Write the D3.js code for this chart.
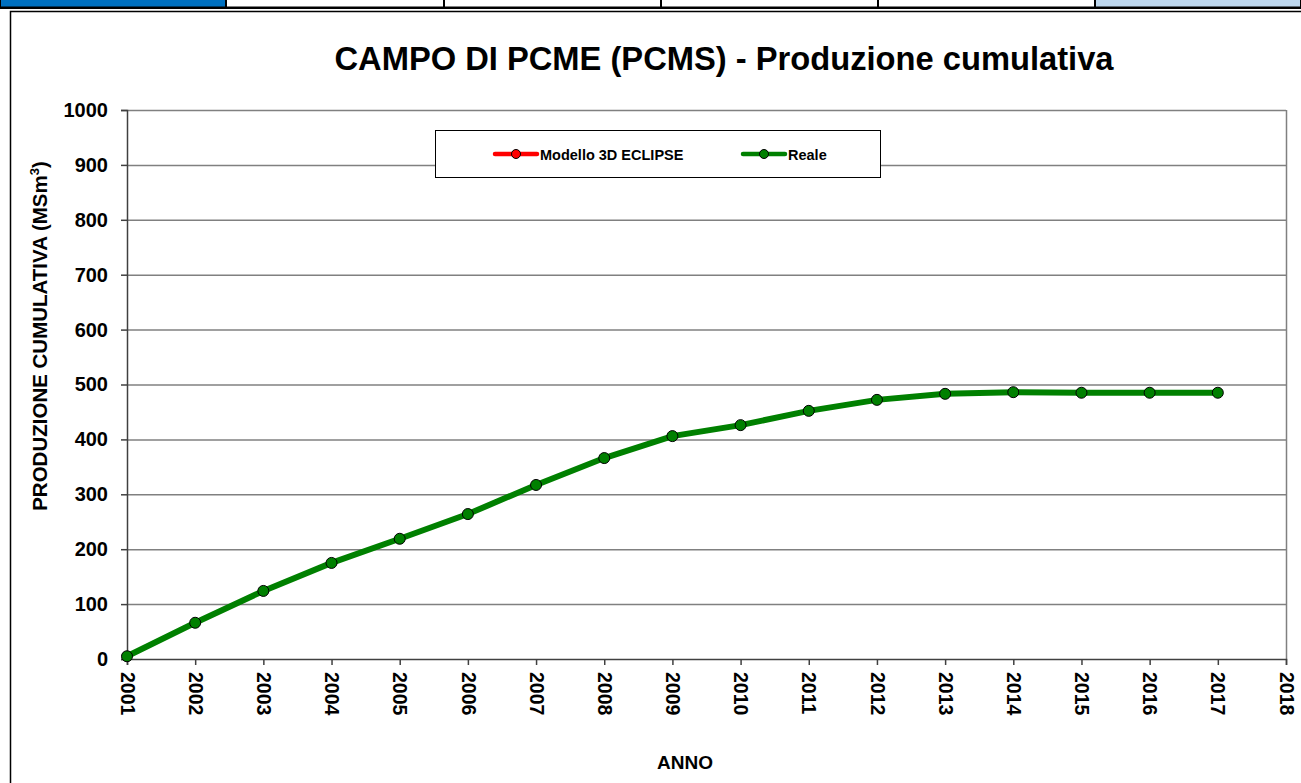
<!DOCTYPE html>
<html><head><meta charset="utf-8">
<script src="https://cdn.jsdelivr.net/npm/d3@7"></script>
<style>
html,body{margin:0;padding:0;background:#fff;}
svg{display:block;font-family:"Liberation Sans",Arial,sans-serif;}
</style></head>
<body>
<svg id="chart" width="1301" height="783"></svg>
<script>
const years = [2001,2002,2003,2004,2005,2006,2007,2008,2009,2010,2011,2012,2013,2014,2015,2016,2017];
const realValues = [5,66,124,175,219,264,317,366,406,426,452,472,483,486,485,485,485];
const modelValues = [];
const xTicks = [2001,2002,2003,2004,2005,2006,2007,2008,2009,2010,2011,2012,2013,2014,2015,2016,2017,2018];
const yTicks = [0,100,200,300,400,500,600,700,800,900,1000];
const seriesNames = ["Modello 3D ECLIPSE","Reale"];
const seriesColors = ["#ff0000","#008000"];

const svg = d3.select("#chart");

// top strip of table cells
const strip = [[0,226,"#0070c0"],[226,444,"#fff"],[444,661,"#fff"],[661,878,"#fff"],[878,1095,"#fff"],[1095,1301,"#bdd7ee"]];
strip.forEach(s=>{
  svg.append("rect").attr("x",s[0]+0.5).attr("y",-1).attr("width",s[1]-s[0]-1).attr("height",8)
    .attr("fill",s[2]).attr("stroke","#000").attr("stroke-width",1);
});
svg.append("line").attr("x1",0).attr("x2",1301).attr("y1",8).attr("y2",8).attr("stroke","#000").attr("stroke-width",2);
// chart frame
svg.append("path").attr("d","M10.5,783 V11.5 H1301").attr("fill","none").attr("stroke","#000").attr("stroke-width",1.5);

const L=127, R=1286, T=110, B=659;
const x = d3.scaleLinear().domain([2001,2018]).range([L,R]);
const y = d3.scaleLinear().domain([0,1000]).range([B,T]);

// gridlines
svg.append("g").selectAll("line").data(yTicks.filter(d=>d>0)).join("line")
  .attr("x1",L).attr("x2",R).attr("y1",d=>y(d)+0.5).attr("y2",d=>y(d)+0.5)
  .attr("stroke","#808080").attr("stroke-width",1.5);
// right border
svg.append("line").attr("x1",R+0.5).attr("x2",R+0.5).attr("y1",T).attr("y2",B).attr("stroke","#808080").attr("stroke-width",1.5);

const FF = "Liberation Sans, Arial, sans-serif";
// axes
const yAxis = d3.axisLeft(y).tickValues(yTicks).tickSize(6).tickPadding(13).tickFormat(d3.format("d"));
const gy = svg.append("g").attr("transform",`translate(${L},0)`).call(yAxis);
gy.select(".domain").attr("stroke","#404040").attr("stroke-width",1.5);
gy.selectAll(".tick line").attr("stroke","#404040").attr("stroke-width",1.5);
gy.selectAll(".tick text").attr("font-size",20).attr("font-weight","bold").attr("fill","#000")
  .attr("font-family",FF);

const xAxis = d3.axisBottom(x).tickValues(xTicks).tickSize(6).tickFormat(d3.format("d"));
const gx = svg.append("g").attr("transform",`translate(0,${B})`).call(xAxis);
gx.select(".domain").attr("stroke","#404040").attr("stroke-width",1.5);
gx.selectAll(".tick line").attr("stroke","#404040").attr("stroke-width",1.5);
gx.selectAll(".tick text").attr("font-size",19.5).attr("font-weight","bold").attr("fill","#000")
  .attr("font-family",FF)
  .attr("transform","rotate(90)").attr("x",13).attr("y",0).attr("dy","0.35em").attr("text-anchor","start");

// lines
const line = d3.line().x(d=>x(d[0])).y(d=>y(d[1]));
const series = [modelValues, realValues];
series.forEach((vals,i)=>{
  const pts = vals.map((v,j)=>[years[j],v]);
  if(!pts.length) return;
  svg.append("path").datum(pts).attr("d",line).attr("fill","none")
    .attr("stroke",seriesColors[i]).attr("stroke-width",6);
  svg.append("g").selectAll("circle").data(pts).join("circle")
    .attr("cx",d=>x(d[0])).attr("cy",d=>y(d[1])).attr("r",5.5)
    .attr("fill",seriesColors[i]).attr("stroke","#000").attr("stroke-width",1);
});

// title
svg.append("text").attr("x",724).attr("y",70).attr("text-anchor","middle")
  .attr("font-size",32.7).attr("font-weight","bold").text("CAMPO DI PCME (PCMS) - Produzione cumulativa");
// axis titles
const yt = svg.append("text").attr("transform","translate(47,336) rotate(-90)").attr("text-anchor","middle")
  .attr("font-size",20.5).attr("font-weight","bold");
yt.append("tspan").text("PRODUZIONE CUMULATIVA (MSm");
yt.append("tspan").attr("font-size",13).attr("dy",-8).text("3");
yt.append("tspan").attr("dy",8).text(")");
svg.append("text").attr("x",685).attr("y",769).attr("text-anchor","middle")
  .attr("font-size",19).attr("font-weight","bold").text("ANNO");

// legend
const lg = svg.append("g");
lg.append("rect").attr("x",435.5).attr("y",130.5).attr("width",445).attr("height",47)
  .attr("fill","#fff").attr("stroke","#000").attr("stroke-width",1);
const legX = [495, 743];
seriesNames.forEach((n,i)=>{
  lg.append("line").attr("x1",legX[i]).attr("x2",legX[i]+42).attr("y1",154).attr("y2",154)
    .attr("stroke",seriesColors[i]).attr("stroke-width",4.5).attr("stroke-linecap","round");
  lg.append("circle").attr("cx",legX[i]+21).attr("cy",154).attr("r",4.5)
    .attr("fill",seriesColors[i]).attr("stroke","#000").attr("stroke-width",1);
  lg.append("text").attr("x",legX[i]+45).attr("y",159.5).attr("font-size",14.5).attr("font-weight","bold").text(n);
});
</script>
</body></html>
